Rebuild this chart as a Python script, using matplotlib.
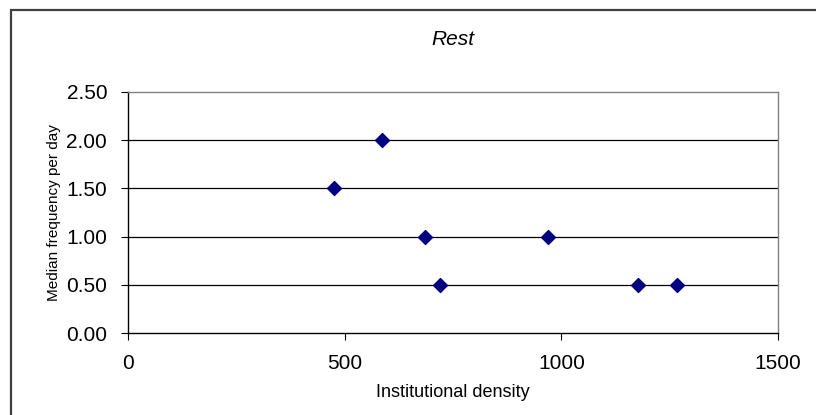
import matplotlib.pyplot as plt
from matplotlib.patches import Rectangle

# データ
density = [475, 585, 685, 970, 720, 1177, 1268]
median_freq = [1.5, 2.0, 1.0, 1.0, 0.5, 0.5, 0.5]

x_ticks = [0, 500, 1000, 1500]
y_ticks = [0.0, 0.5, 1.0, 1.5, 2.0, 2.5]
y_tick_labels = ["0.00", "0.50", "1.00", "1.50", "2.00", "2.50"]


def main() -> None:
    plt.rcParams['font.family'] = ['Liberation Sans', 'DejaVu Sans']

    fig = plt.figure(figsize=(8.16, 4.15), dpi=100)
    ax = fig.add_axes([128 / 816, 1 - 333 / 415, 650 / 816, 241 / 415])

    # 外枠（右と下は画像の外）
    top = 1 - 10 / 415
    fig.patches.append(Rectangle((11 / 816, -0.2), 1.2, top + 0.2,
                                 transform=fig.transFigure, fill=False,
                                 edgecolor='#404040', linewidth=1.6))

    # 横方向のグリッド線
    for y in y_ticks[1:-1]:
        ax.axhline(y, color='black', linewidth=0.9, zorder=1)

    ax.scatter(density, median_freq, marker='D', s=50, color='#000080',
               edgecolors='#000080', zorder=3)

    ax.set_xlim(0, 1500)
    ax.set_ylim(0, 2.5)
    ax.set_xticks(x_ticks)
    ax.set_yticks(y_ticks)
    ax.set_yticklabels(y_tick_labels)
    ax.tick_params(axis='both', direction='out', length=5, width=0.8,
                   labelsize=15, pad=10, color='black')

    for side in ['top', 'right']:
        ax.spines[side].set_color('#808080')
        ax.spines[side].set_linewidth(1.0)
    for side in ['left', 'bottom']:
        ax.spines[side].set_color('black')
        ax.spines[side].set_linewidth(1.0)

    ax.set_title("Rest", fontsize=15, style='italic', pad=34)
    ax.set_xlabel("Institutional density", fontsize=13, labelpad=8)
    ax.set_ylabel("Median frequency per day", fontsize=11, labelpad=4)

    fig.savefig("out.png", dpi=100)


if __name__ == "__main__":
    main()
